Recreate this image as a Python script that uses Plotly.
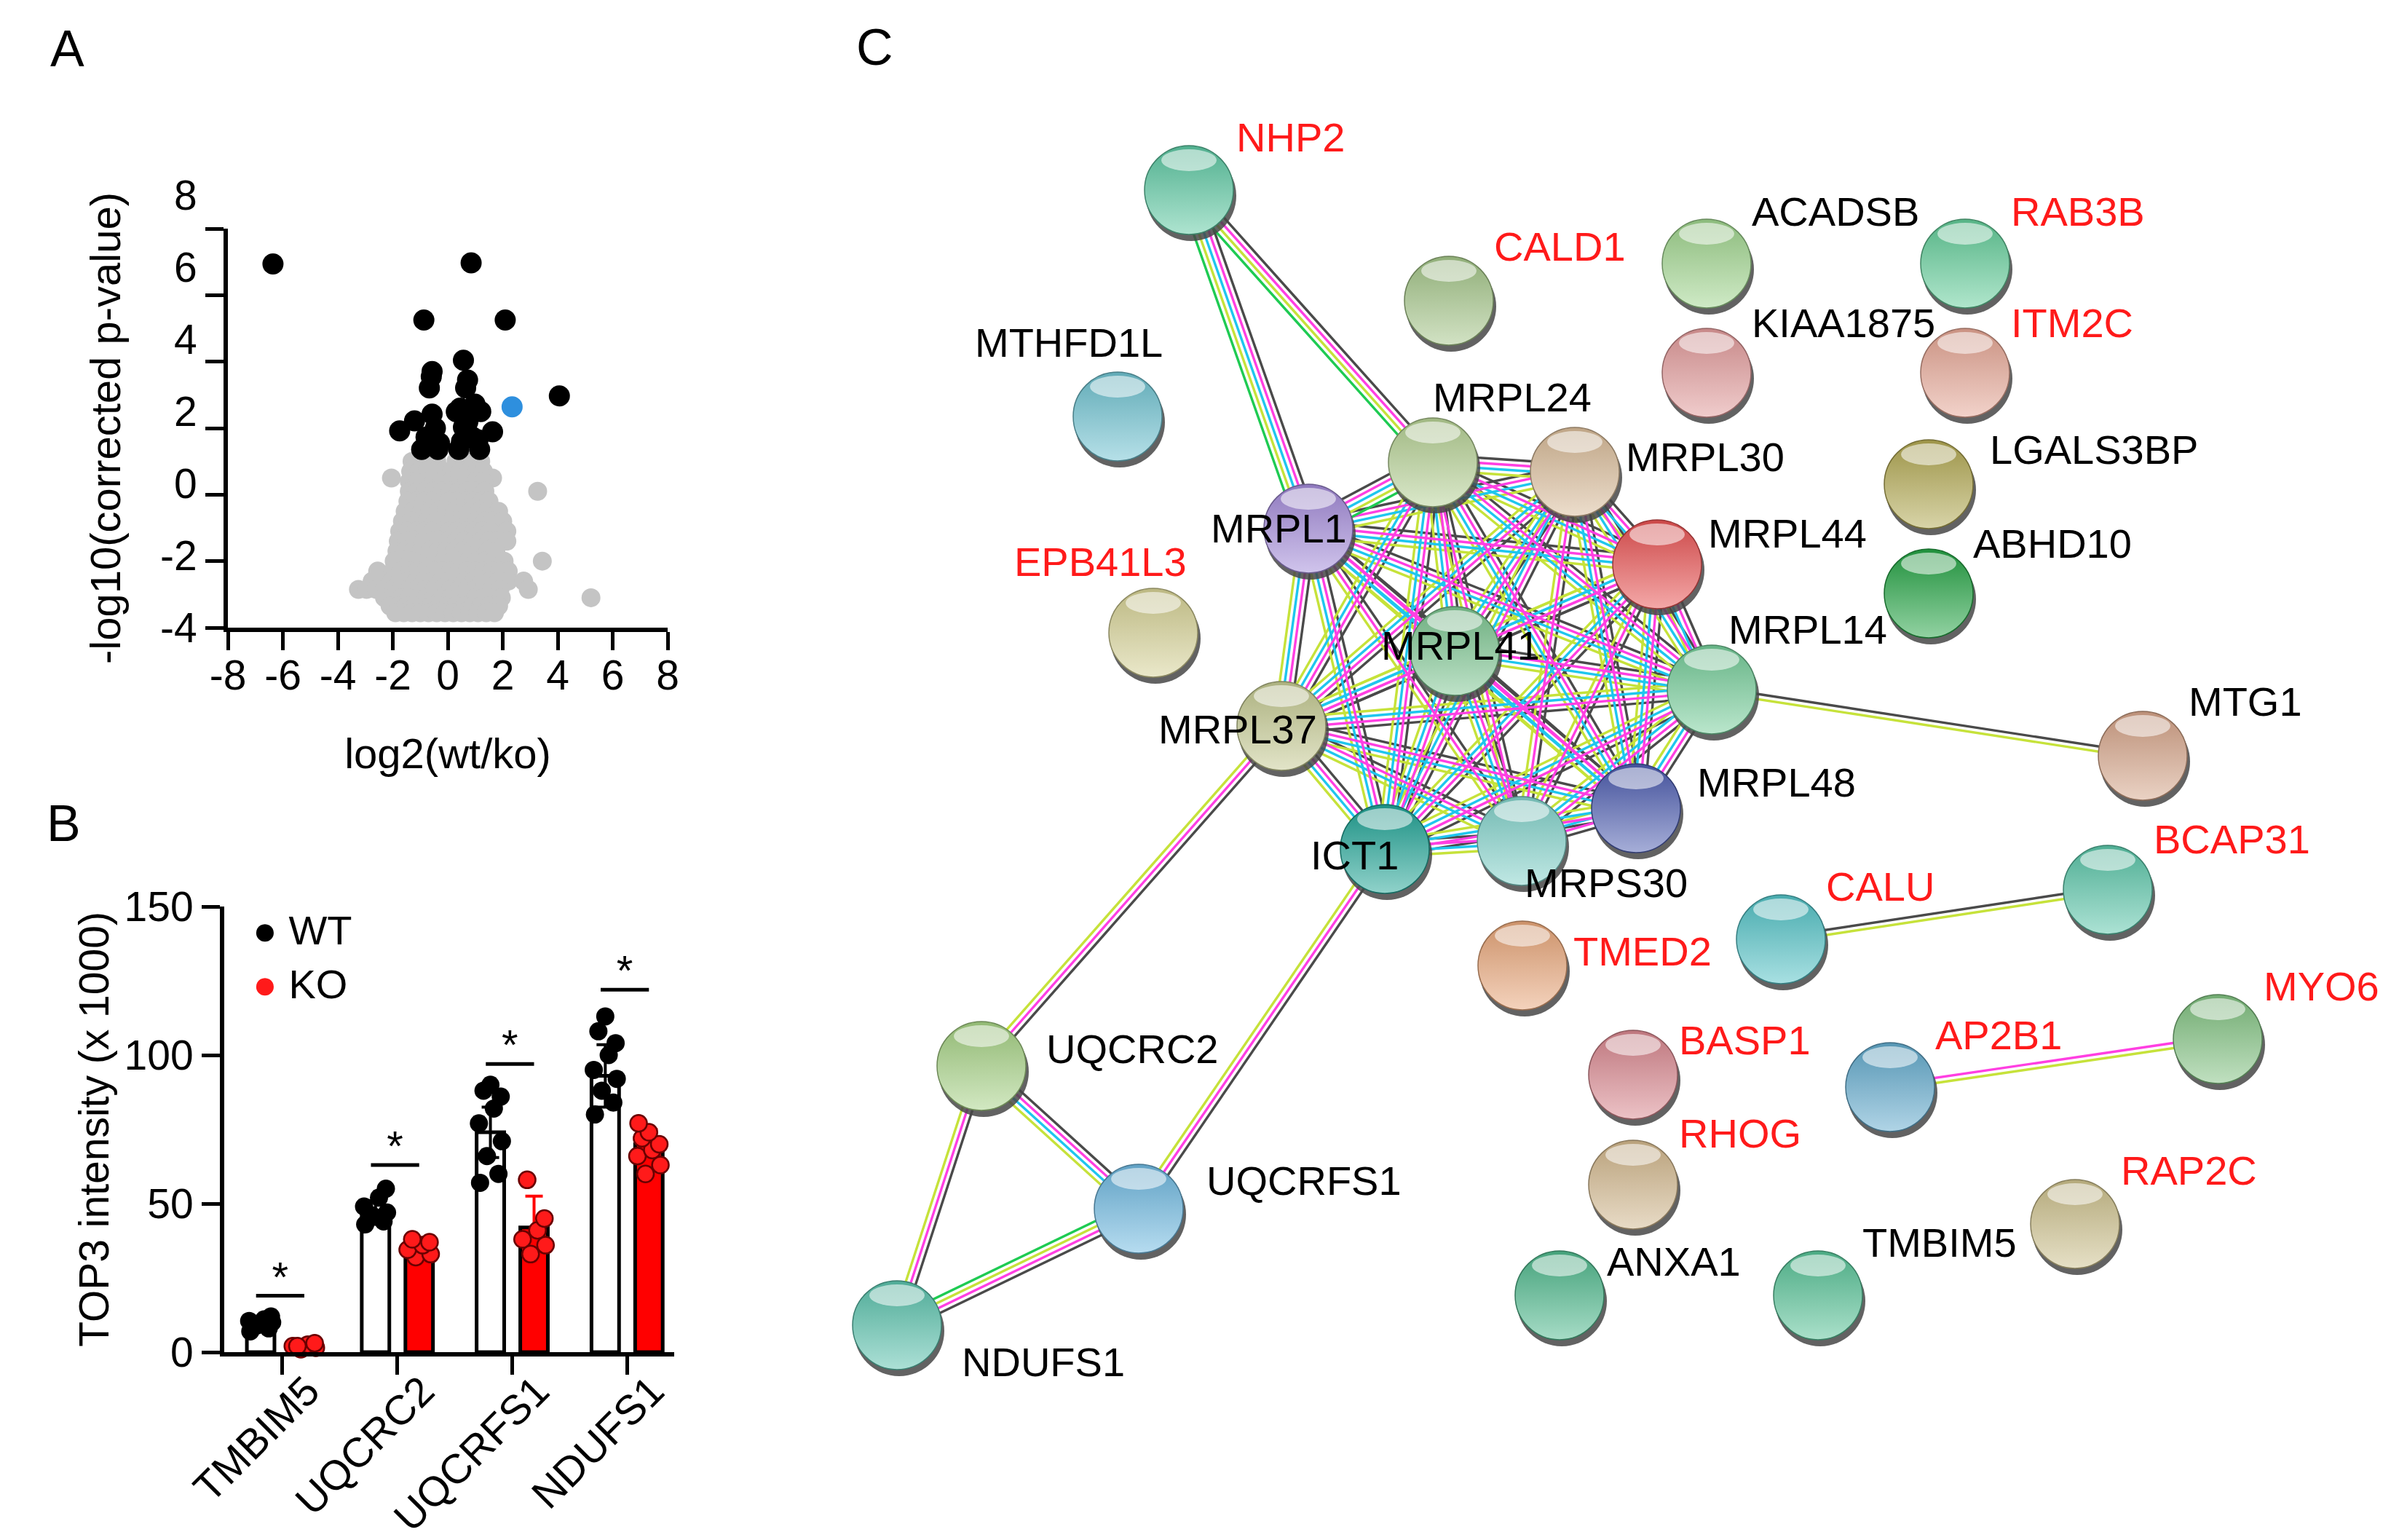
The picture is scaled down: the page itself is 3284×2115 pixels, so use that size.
import math
import plotly.graph_objects as go

W, H = 3284, 2115
FONT = "Liberation Sans, Arial, Helvetica, sans-serif"

# ---------------- Panel A : volcano plot ----------------
A_XTICKS = [-8, -6, -4, -2, 0, 2, 4, 6, 8]
A_YTICKS = [-4, -2, 0, 2, 4, 6, 8]

SIG_X = [-6.36, 0.85, -0.87, 2.09, 0.57, -0.57, -0.67, 0.65, 0.99, 4.06, -1.75, -1.21,
         -0.57, 0.31, 0.73, 1.63, -0.79, -0.36, 0.40, 1.16, -0.95, 0.90, 0.57, -0.60,
         0.72, 1.20, -0.45, 0.50, 1.10, -0.30, 0.45]
SIG_Y = [6.94, 6.97, 5.25, 5.25, 4.04, 3.70, 3.21, 3.21, 2.72, 2.97, 1.92, 2.22,
         2.42, 2.49, 2.19, 1.89, 1.73, 1.36, 1.36, 1.36, 1.36, 1.73, 2.03, 3.55,
         3.45, 2.50, 2.00, 1.60, 1.65, 1.55, 2.60]
HIT_X = [2.34]
HIT_Y = [2.64]

GREY_ROWS = [
    (1.0, [-1.3, -1.0, -0.7, -0.4, 0.3, 0.6, 0.9, 1.2]),
    (0.7, [-1.35, -1.05, -0.75, -0.45, -0.15, 0.15, 0.45, 0.75, 1.05, 1.3]),
    (0.5, [-2.05, 1.63]),
    (0.4, [-1.4, -1.1, -0.8, -0.5, -0.2, 0.1, 0.4, 0.7, 1.0, 1.3]),
    (0.1, [-1.4, -1.1, -0.8, -0.5, -0.2, 0.1, 0.4, 0.7, 1.0, 1.35, 3.27]),
    (-0.2, [-1.45, -1.15, -0.85, -0.55, -0.25, 0.05, 0.35, 0.65, 0.95, 1.25, 1.5]),
    (-0.5, [-1.55, -1.25, -0.95, -0.65, -0.35, -0.05, 0.25, 0.55, 0.85, 1.15, 1.45, 1.85]),
    (-0.8, [-1.65, -1.35, -1.05, -0.75, -0.45, -0.15, 0.15, 0.45, 0.75, 1.05, 1.35, 1.6, 2.0]),
    (-1.1, [-1.75, -1.45, -1.15, -0.85, -0.55, -0.25, 0.05, 0.35, 0.65, 0.95, 1.25, 1.55, 2.15]),
    (-1.4, [-1.8, -1.5, -1.2, -0.9, -0.6, -0.3, 0.0, 0.3, 0.6, 0.9, 1.2, 1.5, 1.8, 2.15]),
    (-1.7, [-1.85, -1.55, -1.25, -0.95, -0.65, -0.35, -0.05, 0.25, 0.55, 0.85, 1.15, 1.45, 1.75]),
    (-2.0, [-1.95, -1.65, -1.35, -1.05, -0.75, -0.45, -0.15, 0.15, 0.45, 0.75, 1.05, 1.35, 1.65, 2.05, 3.44]),
    (-2.3, [-2.55, -2.0, -1.7, -1.4, -1.1, -0.8, -0.5, -0.2, 0.1, 0.4, 0.7, 1.0, 1.3, 1.6, 1.9, 2.2]),
    (-2.6, [-2.75, -2.4, -2.05, -1.75, -1.45, -1.15, -0.85, -0.55, -0.25, 0.05, 0.35, 0.65, 0.95,
            1.25, 1.55, 1.85, 2.2, 2.76]),
    (-2.85, [-3.25, -2.95, -2.6, -2.3, -2.0, -1.7, -1.4, -1.1, -0.8, -0.5, -0.2, 0.1, 0.4, 0.7,
             1.0, 1.3, 1.6, 1.9, 2.93]),
    (-3.1, [-2.3, -2.0, -1.7, -1.4, -1.1, -0.8, -0.5, -0.2, 0.1, 0.4, 0.7, 1.0, 1.3, 1.6, 1.95, 5.21]),
    (-3.35, [-2.1, -1.8, -1.5, -1.2, -0.9, -0.6, -0.3, 0.0, 0.3, 0.6, 0.9, 1.2, 1.5, 1.85]),
    (-3.55, [-1.9, -1.6, -1.3, -1.0, -0.7, -0.4, -0.1, 0.2, 0.5, 0.8, 1.1, 1.4, 1.7]),
]

# ---------------- Panel B : bar chart ----------------
CATS = ["TMBIM5", "UQCRC2", "UQCRFS1", "NDUFS1"]
B_YTICKS = [0, 50, 100, 150]
WT_MEAN = [9.5, 47, 74, 93]
WT_SD = [1.5, 4, 8.5, 10.5]
KO_MEAN = [2, 35, 42, 70]
KO_SD = [1, 2.5, 10.5, 5]
WT_PTS = [[7, 8, 9, 10, 10.5, 11, 12],
          [43, 44, 46, 47, 49, 52, 55],
          [57, 60, 66, 71, 77, 82, 86, 88, 90],
          [80, 84, 88, 92, 95, 100, 104, 108, 113]]
KO_PTS = [[1, 1.5, 2, 2.5, 3, 2],
          [32, 33, 34.5, 36, 37, 38],
          [33, 36, 38, 41, 45, 58],
          [60, 63, 66, 68, 70, 72, 74, 77]]
SIG_LEVEL = [19, 63, 97, 122]

# ---------------- Panel C : STRING network ----------------
NODE_NAMES = ["NHP2", "CALD1", "ACADSB", "RAB3B", "KIAA1875", "ITM2C", "MTHFD1L", "MRPL24",
              "MRPL30", "LGALS3BP", "MRPL1", "MRPL44", "ABHD10", "EPB41L3", "MRPL41", "MRPL14",
              "MRPL37", "MTG1", "MRPL48", "ICT1", "MRPS30", "BCAP31", "CALU", "TMED2",
              "UQCRC2", "BASP1", "AP2B1", "MYO6", "RHOG", "UQCRFS1", "RAP2C", "ANXA1",
              "TMBIM5", "NDUFS1"]
NODE_X = [1625, 1982, 2336, 2691, 2336, 2691, 1527, 1960,
          2155, 2641, 1789, 2268, 2641, 1576, 1990, 2343,
          1752, 2935, 2239, 1894, 2082, 2887, 2438, 2083,
          1340, 2235, 2588, 3038, 2235, 1556, 2842, 2134,
          2489, 1224]
NODE_Y = [253, 405, 354, 354, 504, 504, 564, 627,
          640, 657, 718, 767, 807, 861, 886, 939,
          989, 1030, 1102, 1158, 1147, 1214, 1282, 1318,
          1456, 1468, 1485, 1419, 1619, 1652, 1673, 1771,
          1771, 1812]
NODE_COLORS = ["#5cc8a2", "#a4c688", "#9fd48d", "#62cc98", "#e29a9a", "#e6a694", "#6ec2d0", "#b6d194",
               "#d9bb98", "#b2a852", "#a28ad8", "#e85252", "#24a444", "#d6d194", "#7cc690", "#74cc98",
               "#c4c990", "#d6a488", "#4c5cb0", "#20a496", "#82d2ca", "#5ac6a8", "#52c2c6", "#e8a678",
               "#a6d284", "#d8868e", "#62aacc", "#80c280", "#d2b78c", "#6eb8e0", "#cdc08c", "#4eb88c",
               "#56c296", "#5ac2ac"]
RED_NAMES = ["NHP2", "CALD1", "RAB3B", "ITM2C", "EPB41L3", "BCAP31", "CALU", "TMED2",
             "BASP1", "AP2B1", "MYO6", "RHOG", "RAP2C"]
LABEL_X = [1688, 2042, 2396, 2752, 2396, 2752, 1329, 1958,
           2223, 2723, 1653, 2336, 2700, 1383, 1887, 2364,
           1581, 2996, 2321, 1790, 2084, 2948, 2498, 2151,
           1427, 2296, 2648, 3099, 2296, 1647, 2903, 2197,
           2548, 1311]
LABEL_Y = [180, 330, 282, 282, 435, 435, 462, 537,
           619, 609, 717, 724, 738, 763, 878, 856,
           993, 955, 1066, 1166, 1204, 1144, 1209, 1298,
           1432, 1420, 1413, 1346, 1548, 1613, 1599, 1724,
           1698, 1862]

EDGES = [
    "NHP2|MRPL1|kmcyg", "NHP2|MRPL24|kmyg",
    "MRPL1|MRPL24|kmcyg", "MRPL1|MRPL30|kmcy", "MRPL1|MRPL44|kmcy", "MRPL1|MRPL41|kmcy",
    "MRPL1|MRPL14|kmcy", "MRPL1|MRPL37|kmcy", "MRPL1|MRPL48|kmcy", "MRPL1|ICT1|kmcy",
    "MRPL1|MRPS30|kmy",
    "MRPL24|MRPL30|kmcy", "MRPL24|MRPL44|kmcy", "MRPL24|MRPL41|kmcy", "MRPL24|MRPL14|kmcy",
    "MRPL24|MRPL37|kmcy", "MRPL24|MRPL48|kmcy", "MRPL24|ICT1|kmcy", "MRPL24|MRPS30|kmy",
    "MRPL30|MRPL44|kmcy", "MRPL30|MRPL41|kmcy", "MRPL30|MRPL14|kmcy", "MRPL30|MRPL37|kmcy",
    "MRPL30|MRPL48|kmcy", "MRPL30|ICT1|kmcy", "MRPL30|MRPS30|kmy",
    "MRPL44|MRPL41|kmcy", "MRPL44|MRPL14|kmcy", "MRPL44|MRPL37|kmcy", "MRPL44|MRPL48|kmcy",
    "MRPL44|ICT1|kmcy", "MRPL44|MRPS30|kmy",
    "MRPL41|MRPL14|kmcy", "MRPL41|MRPL37|kmcy", "MRPL41|MRPL48|kmcy", "MRPL41|ICT1|kmcy",
    "MRPL41|MRPS30|kmcy",
    "MRPL14|MRPL37|kmcy", "MRPL14|MRPL48|kmcy", "MRPL14|ICT1|kmcy", "MRPL14|MRPS30|kmcy",
    "MRPL37|MRPL48|kmcy", "MRPL37|ICT1|kmcy", "MRPL37|MRPS30|kmcy",
    "MRPL48|ICT1|kmcy", "MRPL48|MRPS30|kmcy", "ICT1|MRPS30|kmcy",
    "MRPL14|MTG1|ky", "MRPL37|UQCRC2|kmy", "ICT1|UQCRFS1|kmy",
    "UQCRC2|UQCRFS1|kmcy", "UQCRC2|NDUFS1|kmy", "UQCRFS1|NDUFS1|kmyg",
    "CALU|BCAP31|ky", "AP2B1|MYO6|my",
]
EV_COLORS = {"k": "#4a4a4a", "m": "#ff3fe2", "c": "#1fc6ee", "y": "#c6e23a", "g": "#1ecb52"}


def mix(hexc, other, t):
    h = hexc.lstrip("#")
    r, g, b = int(h[0:2], 16), int(h[2:4], 16), int(h[4:6], 16)
    o = (255, 255, 255) if other == "white" else (0, 0, 0)
    r = round(r + (o[0] - r) * t)
    g = round(g + (o[1] - g) * t)
    b = round(b + (o[2] - b) * t)
    return f"rgb({r},{g},{b})"


fig = go.Figure()

# ---- Panel A traces ----
gx, gy = [], []
for yv, xs in GREY_ROWS:
    gx += xs
    gy += [yv] * len(xs)
fig.add_trace(go.Scatter(x=gx, y=gy, mode="markers", xaxis="x", yaxis="y",
                         marker=dict(size=26, color="#c4c4c4"), showlegend=False, cliponaxis=False))
fig.add_trace(go.Scatter(x=SIG_X, y=SIG_Y, mode="markers", xaxis="x", yaxis="y",
                         marker=dict(size=29, color="black"), showlegend=False, cliponaxis=False))
fig.add_trace(go.Scatter(x=HIT_X, y=HIT_Y, mode="markers", xaxis="x", yaxis="y",
                         marker=dict(size=29, color="#2e8fde"), showlegend=False, cliponaxis=False))

# ---- Panel B traces ----
WT_OFF, KO_OFF, BW = -0.19, 0.19, 0.24
JIT = [-0.09, 0.07, -0.03, 0.10, -0.10, 0.03, 0.09, -0.06, 0.0]
idx = list(range(len(CATS)))
fig.add_trace(go.Bar(x=[i + WT_OFF for i in idx], y=WT_MEAN, width=BW, xaxis="x2", yaxis="y2",
                     marker=dict(color="white", line=dict(color="black", width=5)),
                     error_y=dict(type="data", array=WT_SD, color="black", thickness=4, width=12),
                     showlegend=False))
fig.add_trace(go.Bar(x=[i + KO_OFF for i in idx], y=KO_MEAN, width=BW, xaxis="x2", yaxis="y2",
                     marker=dict(color="#ff0000", line=dict(color="black", width=5)),
                     error_y=dict(type="data", array=KO_SD, color="#ff0000", thickness=4, width=12),
                     showlegend=False))
wx, wy, kx, ky = [], [], [], []
for i in idx:
    for j, v in enumerate(WT_PTS[i]):
        wx.append(i + WT_OFF + JIT[j % len(JIT)])
        wy.append(v)
    for j, v in enumerate(KO_PTS[i]):
        kx.append(i + KO_OFF + JIT[(j + 2) % len(JIT)])
        ky.append(v)
fig.add_trace(go.Scatter(x=wx, y=wy, mode="markers", xaxis="x2", yaxis="y2",
                         marker=dict(size=25, color="black"), showlegend=False, cliponaxis=False))
fig.add_trace(go.Scatter(x=kx, y=ky, mode="markers", xaxis="x2", yaxis="y2",
                         marker=dict(size=23, color="#ff1a1a", line=dict(color="#6a0000", width=2.5)),
                         showlegend=False, cliponaxis=False))
sx, sy = [], []
for i in idx:
    sx += [i + WT_OFF - 0.04, i + KO_OFF, None]
    sy += [SIG_LEVEL[i], SIG_LEVEL[i], None]
fig.add_trace(go.Scatter(x=sx, y=sy, mode="lines", xaxis="x2", yaxis="y2",
                         line=dict(color="black", width=5), showlegend=False, cliponaxis=False))
fig.add_trace(go.Scatter(x=[i - 0.02 for i in idx], y=[s + 5 for s in SIG_LEVEL], mode="text",
                         text=["*"] * len(idx), textposition="middle center", xaxis="x2", yaxis="y2",
                         textfont=dict(size=58, color="black", family=FONT), showlegend=False,
                         cliponaxis=False))

# ---- Panel C traces ----
pos = dict(zip(NODE_NAMES, zip(NODE_X, NODE_Y)))
SP = 7.0
segs = {k: ([], []) for k in EV_COLORS}
for e in EDGES:
    a, b, codes = e.split("|")
    x0, y0 = pos[a]
    x1, y1 = pos[b]
    dx, dy = x1 - x0, y1 - y0
    L = math.hypot(dx, dy)
    nx, ny = -dy / L, dx / L
    n = len(codes)
    for i, c in enumerate(codes):
        off = (i - (n - 1) / 2) * SP
        segs[c][0].extend([x0 + nx * off, x1 + nx * off, None])
        segs[c][1].extend([y0 + ny * off, y1 + ny * off, None])
for c in ["k", "y", "c", "m", "g"]:
    fig.add_trace(go.Scatter(x=segs[c][0], y=segs[c][1], mode="lines", xaxis="x3", yaxis="y3",
                             line=dict(color=EV_COLORS[c], width=3.4), showlegend=False,
                             hoverinfo="skip"))

# shadow
fig.add_trace(go.Scatter(x=[x + 3 for x in NODE_X], y=[y + 8 for y in NODE_Y], mode="markers",
                         xaxis="x3", yaxis="y3",
                         marker=dict(size=124, color="rgba(70,70,70,0.85)", line=dict(width=0)),
                         showlegend=False, hoverinfo="skip"))
# body
for nm, x, y, col in zip(NODE_NAMES, NODE_X, NODE_Y, NODE_COLORS):
    fig.add_trace(go.Scatter(x=[x], y=[y], mode="markers", xaxis="x3", yaxis="y3",
                             marker=dict(size=122, color=mix(col, "black", 0.12),
                                         gradient=dict(type="vertical", color=mix(col, "white", 0.5)),
                                         line=dict(color=mix(col, "black", 0.35), width=1.5)),
                             showlegend=False, hovertext=nm, hoverinfo="text"))

shapes = []
for x, y in zip(NODE_X, NODE_Y):
    shapes.append(dict(type="circle", xref="x3", yref="y3", x0=x - 38, x1=x + 38,
                       y0=y - 56, y1=y - 26, fillcolor="rgba(255,255,255,0.55)",
                       line=dict(width=0), layer="above"))

annotations = []
for nm, lx, ly in zip(NODE_NAMES, LABEL_X, LABEL_Y):
    annotations.append(dict(x=lx, y=ly, xref="x3", yref="y3", text=nm, showarrow=False,
                            xanchor="left", yanchor="middle",
                            font=dict(size=56, family=FONT,
                                      color="#ff1a1a" if nm in RED_NAMES else "black")))

for letter, px, py in [("A", 84, 59), ("B", 79, 1123), ("C", 1193, 57)]:
    annotations.append(dict(x=px / W, y=1 - py / H, xref="paper", yref="paper", text=letter,
                            showarrow=False, xanchor="center", yanchor="middle",
                            font=dict(size=70, family=FONT, color="black")))

# Panel A y tick labels: in the original figure they are spread slightly wider than the
# tick marks (label for value v sits at fraction (v + 4) / 12 * 1.084 of the axis height)
A_LABEL_SPREAD = 1.084
A_YMIN, A_YMAX = A_YTICKS[0], A_YTICKS[-1]
for v in A_YTICKS:
    annotations.append(dict(x=0, y=(v - A_YMIN) / (A_YMAX - A_YMIN) * A_LABEL_SPREAD,
                            xref="x domain", yref="y domain",
                            text=str(v), showarrow=False, xanchor="right", yanchor="middle",
                            xshift=-40, font=dict(size=57, family=FONT, color="black")))

# Panel B legend
annotations.append(dict(x=-0.27, y=142, xref="x2", yref="y2", xanchor="left", yanchor="middle",
                        text="<span style='color:black'>●</span>&nbsp;WT", showarrow=False,
                        font=dict(size=56, family=FONT, color="black")))
annotations.append(dict(x=-0.27, y=124, xref="x2", yref="y2", xanchor="left", yanchor="middle",
                        text="<span style='color:#ff1a1a'>●</span>&nbsp;KO", showarrow=False,
                        font=dict(size=56, family=FONT, color="black")))

axis_common = dict(showline=True, linewidth=6, linecolor="black", ticks="outside", ticklen=25,
                   tickwidth=5, tickcolor="black", showgrid=False, zeroline=False, automargin=False,
                   tickfont=dict(size=57, family=FONT, color="black"), fixedrange=True)

fig.update_layout(
    width=W, height=H, margin=dict(l=0, r=0, t=0, b=0),
    paper_bgcolor="white", plot_bgcolor="white", showlegend=False, barmode="overlay",
    font=dict(family=FONT, color="black", size=56),
    xaxis=dict(domain=[305 / W, 909 / W], range=[-8, 8], tickvals=A_XTICKS,
               ticktext=[str(v) for v in A_XTICKS], anchor="y", ticklabelstandoff=-14,
               title=dict(text="log2(wt/ko)", font=dict(size=58, family=FONT), standoff=58),
               **axis_common),
    yaxis=dict(domain=[1 - 854 / H, 1 - 306 / H], range=[A_YMIN, A_YMAX], tickvals=A_YTICKS,
               showticklabels=False, anchor="x",
               title=dict(text="-log10(corrected p-value)", font=dict(size=58, family=FONT), standoff=100),
               **axis_common),
    xaxis2=dict(domain=[300 / W, 918 / W], range=[-0.507, 3.41], tickvals=idx, ticktext=CATS,
                tickangle=-45, anchor="y2", ticklabelstandoff=-34, ticklabelshift=34,
                **axis_common),
    yaxis2=dict(domain=[1 - 1849 / H, 1 - 1237 / H], range=[0, 150], tickvals=B_YTICKS,
                ticktext=[str(v) for v in B_YTICKS], anchor="x2",
                title=dict(text="TOP3 intensity (x 1000)", font=dict(size=57, family=FONT), standoff=5),
                **axis_common),
    xaxis3=dict(domain=[1150 / W, 1], range=[1150, W], visible=False, fixedrange=True),
    yaxis3=dict(domain=[0, 1], range=[H, 0], visible=False, fixedrange=True),
    shapes=shapes, annotations=annotations,
)

fig.write_html("out.html")
